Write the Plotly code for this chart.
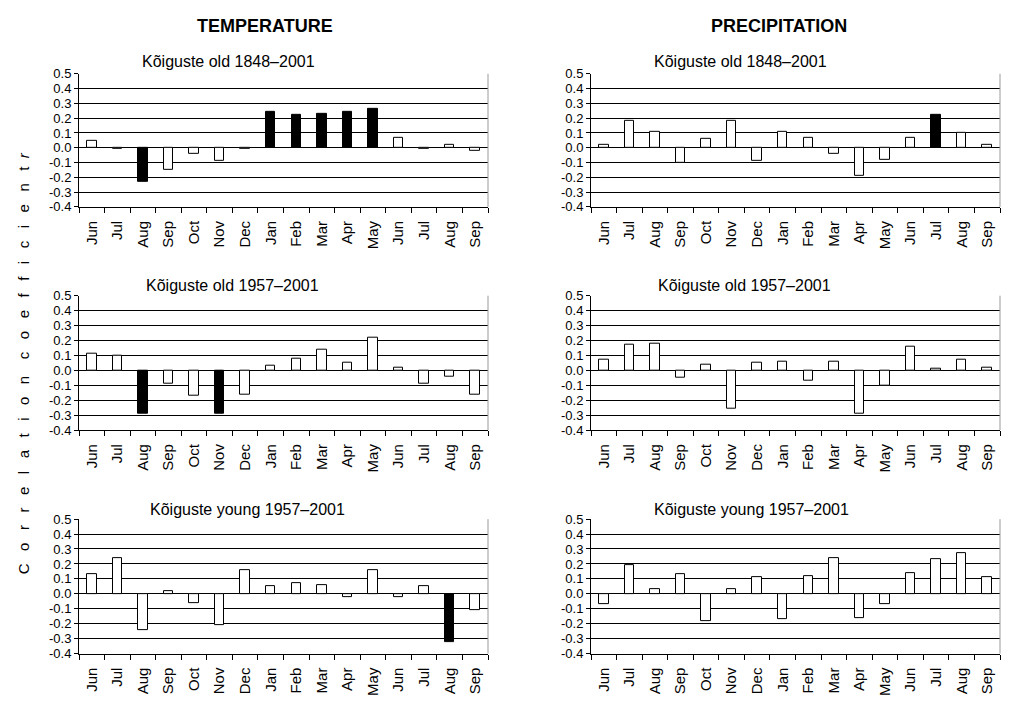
import plotly.graph_objects as go

# ---------------- data ----------------
months = ["Jun", "Jul", "Aug", "Sep", "Oct", "Nov", "Dec", "Jan",
          "Feb", "Mar", "Apr", "May", "Jun", "Jul", "Aug", "Sep"]

temp_old_1848 = [0.05, -0.01, -0.23, -0.15, -0.04, -0.09, -0.01, 0.24,
                 0.22, 0.23, 0.24, 0.26, 0.07, -0.01, 0.02, -0.02]
temp_old_1848_sig = [0, 0, 1, 0, 0, 0, 0, 1, 1, 1, 1, 1, 0, 0, 0, 0]

prec_old_1848 = [0.02, 0.18, 0.11, -0.10, 0.06, 0.18, -0.09, 0.11,
                 0.07, -0.04, -0.19, -0.08, 0.07, 0.22, 0.10, 0.02]
prec_old_1848_sig = [0, 0, 0, 0, 0, 0, 0, 0, 0, 0, 0, 0, 0, 1, 0, 0]

temp_old_1957 = [0.11, 0.10, -0.29, -0.09, -0.17, -0.29, -0.16, 0.03,
                 0.08, 0.14, 0.05, 0.22, 0.02, -0.09, -0.04, -0.16]
temp_old_1957_sig = [0, 0, 1, 0, 0, 1, 0, 0, 0, 0, 0, 0, 0, 0, 0, 0]

prec_old_1957 = [0.07, 0.17, 0.18, -0.05, 0.04, -0.26, 0.05, 0.06,
                 -0.07, 0.06, -0.29, -0.10, 0.16, 0.01, 0.07, 0.02]
prec_old_1957_sig = [0] * 16

temp_young_1957 = [0.13, 0.24, -0.24, 0.02, -0.06, -0.21, 0.16, 0.05,
                   0.07, 0.06, -0.02, 0.16, -0.02, 0.05, -0.32, -0.11]
temp_young_1957_sig = [0, 0, 0, 0, 0, 0, 0, 0, 0, 0, 0, 0, 0, 0, 1, 0]

prec_young_1957 = [-0.07, 0.19, 0.03, 0.13, -0.18, 0.03, 0.11, -0.17,
                   0.12, 0.24, -0.16, -0.07, 0.14, 0.23, 0.27, 0.11]
prec_young_1957_sig = [0] * 16

ytick_vals = [-0.4, -0.3, -0.2, -0.1, 0.0, 0.1, 0.2, 0.3, 0.4, 0.5]
ytick_text = ["-0.4", "-0.3", "-0.2", "-0.1", "0.0", "0.1", "0.2", "0.3", "0.4", "0.5"]

panel_titles = ["Kõiguste old 1848–2001", "Kõiguste old 1848–2001",
                "Kõiguste old 1957–2001", "Kõiguste old 1957–2001",
                "Kõiguste young 1957–2001", "Kõiguste young 1957–2001"]
column_titles = ["TEMPERATURE", "PRECIPITATION"]

panels = [
    (temp_old_1848, temp_old_1848_sig),
    (prec_old_1848, prec_old_1848_sig),
    (temp_old_1957, temp_old_1957_sig),
    (prec_old_1957, prec_old_1957_sig),
    (temp_young_1957, temp_young_1957_sig),
    (prec_young_1957, prec_young_1957_sig),
]

# ---------------- layout geometry (pixels) ----------------
W, H = 1009, 702
col_px = [(79, 488), (591, 1000)]
row_px = [(68.3, 204.3), (295, 432.3), (523.3, 660.7)]
title_px = [(228, 56), (740, 56), (232, 285), (744, 285), (247, 513), (751, 513)]

FONT = "Liberation Sans, Arial, sans-serif"
FS_TITLE = 16
FS_XTICK = 15
FS_YTICK = 13

fig = go.Figure()
xpos = list(range(len(months)))
boundaries = [i - 0.5 for i in range(len(months) + 1)]

annotations = []
shapes = []
for k, (vals, sig) in enumerate(panels):
    r, c = divmod(k, 2)
    n = k + 1
    xa = "x" if n == 1 else f"x{n}"
    ya = "y" if n == 1 else f"y{n}"
    colors = ["black" if s else "white" for s in sig]
    fig.add_trace(go.Bar(
        x=xpos, y=vals, width=0.37,
        marker=dict(color=colors, line=dict(color="black", width=1)),
        xaxis=xa, yaxis=ya, showlegend=False, hoverinfo="skip"))
    x0, x1 = col_px[c]
    yt, yb = row_px[r]
    xkey = "xaxis" if n == 1 else f"xaxis{n}"
    ykey = "yaxis" if n == 1 else f"yaxis{n}"
    fig.layout[xkey] = dict(
        domain=[x0 / W, x1 / W], anchor=ya, range=[-0.5, len(months) - 0.5],
        tickmode="array", tickvals=xpos, ticktext=months, tickangle=-90,
        ticks="outside", ticklen=7, tickcolor="rgba(0,0,0,0)",
        showline=True, linecolor="black", linewidth=1, showgrid=False,
        zeroline=False, fixedrange=True,
        tickfont=dict(family=FONT, size=FS_XTICK, color="black"),
        minor=dict(tickmode="array", tickvals=boundaries, ticks="outside",
                   ticklen=5, tickcolor="black", tickwidth=1, showgrid=False))
    fig.layout[ykey] = dict(
        domain=[1 - yb / H, 1 - yt / H], anchor=xa, range=[-0.4, 0.5],
        tickmode="array", tickvals=ytick_vals, ticktext=ytick_text,
        ticks="outside", ticklen=4, tickcolor="black",
        showline=True, linecolor="black", linewidth=1,
        showgrid=True, gridcolor="black", gridwidth=1,
        zeroline=True, zerolinecolor="black", zerolinewidth=1, fixedrange=True,
        tickfont=dict(family=FONT, size=FS_YTICK, color="black"))
    # gray right border of plot area
    shapes.append(dict(type="line", xref=f"{xa} domain", yref=f"{ya} domain",
                       x0=1, x1=1, y0=0, y1=1,
                       line=dict(color="#9a9a9a", width=1)))
    tx, ty = title_px[k]
    annotations.append(dict(text=panel_titles[k], xref="paper", yref="paper",
                            x=tx / W, y=1 - ty / H, showarrow=False,
                            xanchor="center", yanchor="middle",
                            font=dict(family=FONT, size=FS_TITLE, color="black")))

for c, (t, cx) in enumerate(zip(column_titles, [265, 779])):
    annotations.append(dict(text=f"<b>{t}</b>", xref="paper", yref="paper",
                            x=cx / W, y=1 - 19 / H, showarrow=False,
                            xanchor="center", yanchor="middle",
                            font=dict(family=FONT, size=18, color="black")))

sp = "\u00a0"
def spaced(word):
    return (sp * 3).join(list(word))
ytitle = spaced("Correlation") + sp * 4 + spaced("coefficient") + sp * 2 + "<i>r</i>"
annotations.append(dict(text=ytitle, xref="paper", yref="paper",
                        x=23 / W, y=1 - 364 / H, textangle=-90, showarrow=False,
                        xanchor="center", yanchor="middle",
                        font=dict(family=FONT, size=15, color="black")))

fig.update_layout(
    width=W, height=H, margin=dict(l=0, r=0, t=0, b=0),
    paper_bgcolor="white", plot_bgcolor="white",
    annotations=annotations, shapes=shapes, bargap=0,
    font=dict(family=FONT, size=FS_XTICK, color="black"))

fig.write_html("out.html")
